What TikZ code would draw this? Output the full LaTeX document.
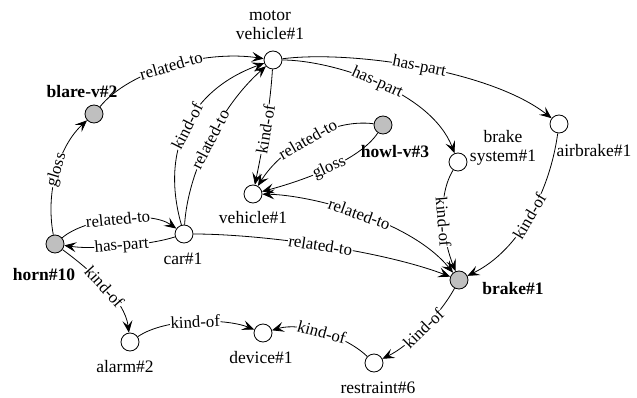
\documentclass[tikz,border=0pt]{standalone}
\usepackage{fontspec}
\setmainfont{Liberation Serif}
\usetikzlibrary{arrows.meta}
\begin{document}
\begin{tikzpicture}[x=1pt,y=-1pt,
  >={Stealth[length=12pt,width=10pt,inset=5pt]},
  concept/.style={circle,draw,line width=0.8pt,minimum size=18pt,inner sep=0pt,fill=white},
  seed/.style={concept,fill=black!25},
  rel/.style={line width=0.8pt,->},
  lab/.style={font=\fontsize{16.8}{18}\selectfont,sloped,fill=white,inner sep=0.5pt,pos=0.5},
  nm/.style={font=\fontsize{17.5}{19}\selectfont,inner sep=0pt,align=center},
  bnm/.style={font=\fontsize{17.5}{19}\selectfont\bfseries,inner sep=0pt,align=center}]
\useasboundingbox (0,0) rectangle (637,398);

% concept nodes
\node[concept] (mv) at (273,60) {};
\node[seed] (blare) at (94,114) {};
\node[seed] (howl) at (383,125) {};
\node[concept] (bsys) at (458,162) {};
\node[concept] (air) at (559,124) {};
\node[concept] (veh) at (253,194) {};
\node[concept] (car) at (184,234) {};
\node[seed] (horn) at (55,244) {};
\node[concept] (alarm) at (130,342) {};
\node[concept] (dev) at (263,333) {};
\node[seed] (brake) at (459,280) {};
\node[concept] (restr) at (374,363) {};

% names
\node[nm] (tmv) at (270,25) {motor\\vehicle\#1};
\node[bnm] (tblare) at (82,92) {blare-v\#2};
\node[bnm] (thowl) at (395,152) {howl-v\#3};
\node[nm] (tbsys) at (503,148) {brake\\system\#1};
\node[nm] (tair) at (594,151) {airbrake\#1};
\node[nm] (tveh) at (253,218) {vehicle\#1};
\node[nm] (tcar) at (183,259) {car\#1};
\node[bnm] (thorn) at (44,275) {horn\#10};
\node[nm] (talarm) at (125,367) {alarm\#2};
\node[nm] (tdev) at (261,358) {device\#1};
\node[bnm] (tbrake) at (513,289) {brake\#1};
\node[nm] (trestr) at (378,388) {restraint\#6};

% relations
\draw[rel] (blare) .. controls (130,70) and (205,50) .. node[lab]{related-to} (mv);
\draw[rel] (horn) .. controls (45,190) and (60,145) .. node[lab]{gloss} (blare);
\draw[rel] (horn) .. controls (85,218) and (150,210) .. node[lab]{related-to} (car);
\draw[rel] (car) .. controls (150,245) and (95,250) .. node[lab]{has-part} (horn);
\draw[rel] (horn) .. controls (90,270) and (125,300) .. node[lab]{kind-of} (alarm);
\draw[rel] (alarm) .. controls (165,318) and (225,318) .. node[lab]{kind-of} (dev);
\draw[rel] (restr) .. controls (345,335) and (300,322) .. node[lab]{kind-of} (dev);
\draw[rel] (brake) .. controls (440,315) and (410,345) .. node[lab]{kind-of} (restr);
\draw[rel] (car) .. controls (160,150) and (190,90) .. node[lab]{kind-of} (mv);
\draw[rel] (car) .. controls (188,170) and (222,105) .. node[lab]{related-to} (mv);
\draw[rel] (mv) .. controls (270,110) and (262,150) .. node[lab]{kind-of} (veh);
\draw[rel] (howl) .. controls (330,118) and (280,150) .. node[lab]{related-to} (veh);
\draw[rel] (howl) .. controls (360,160) and (305,180) .. node[lab]{gloss} (veh);
\draw[rel,<->] (veh) .. controls (310,195) and (410,220) .. node[lab]{related-to} (brake);
\draw[rel] (car) .. controls (260,234) and (380,250) .. node[lab]{related-to} (brake);
\draw[rel] (mv) .. controls (350,50) and (490,70) .. node[lab]{has-part} (air);
\draw[rel] (mv) .. controls (330,60) and (430,90) .. node[lab]{has-part} (bsys);
\draw[rel] (bsys) .. controls (435,200) and (445,245) .. node[lab]{kind-of} (brake);
\draw[rel] (air) .. controls (550,190) and (520,250) .. node[lab]{kind-of} (brake);
\end{tikzpicture}
\end{document}
